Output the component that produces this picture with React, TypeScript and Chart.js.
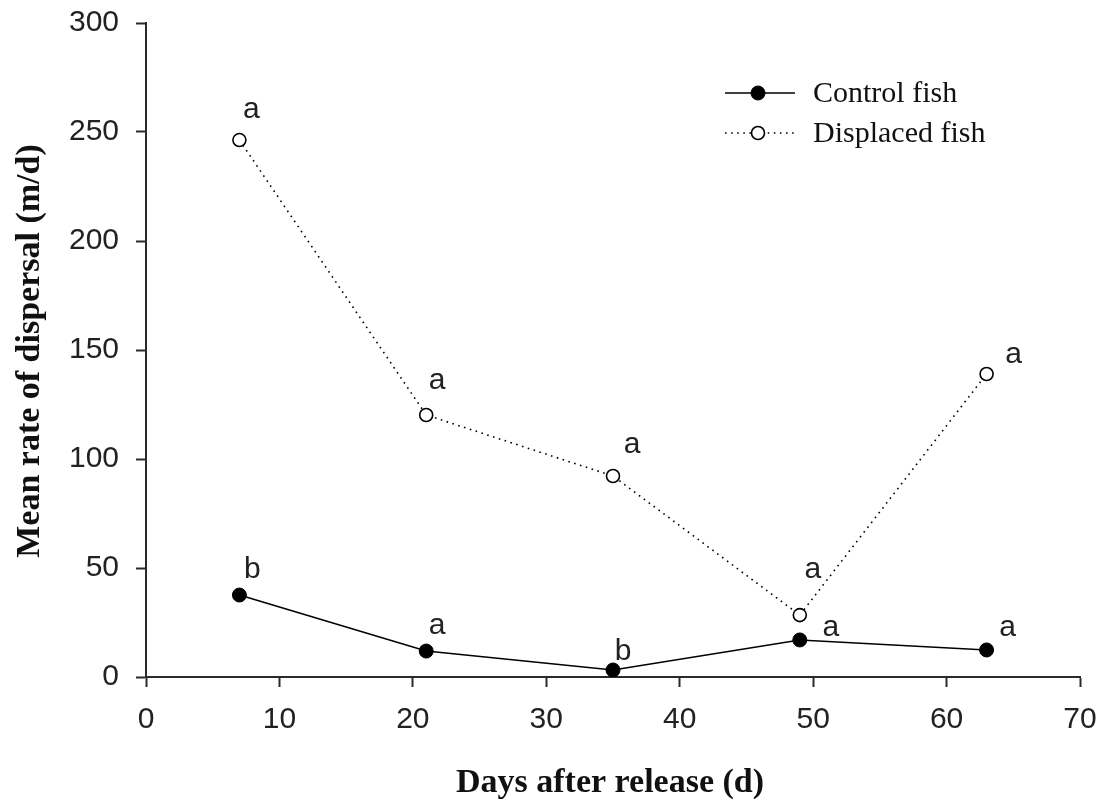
import React, { useEffect, useRef } from "react";
import { Chart, registerables } from "chart.js";

Chart.register(...registerables);

// ---- data ----
const days = [7, 21, 35, 49, 63];
const controlFish = [37.6, 11.9, 3.2, 17, 12.4];
const displacedFish = [246.3, 120.2, 92.2, 28.4, 139];
const controlLetters = ["b", "a", "b", "a", "a"];
const displacedLetters = ["a", "a", "a", "a", "a"];
const xTickValues = [0, 10, 20, 30, 40, 50, 60, 70];
const yTickValues = [0, 50, 100, 150, 200, 250, 300];
const seriesNames = ["Control fish", "Displaced fish"];
const xTitle = "Days after release (d)";
const yTitle = "Mean rate of dispersal (m/d)";

// ---- style (letter placement relative to each point, in px) ----
const controlLetterOffsets = [[13, -25], [11, -23], [10, -18], [31, -10], [21, -20]];
const displacedLetterOffsets = [[12, -28], [11, -32], [19, -29], [13, -43], [27, -17]];

const SANS = "'Liberation Sans', Arial, sans-serif";
const SERIF = "'Liberation Serif', 'Times New Roman', serif";
const AXIS = "#2a2a2a";

// target plot box
const AREA = { left: 146, right: 1080, top: 23, bottom: 677 };

const decorPlugin = {
  id: "decor",
  afterDatasetsDraw(chart: any) {
    const ctx = chart.ctx;
    const ca = chart.chartArea;
    ctx.save();
    const letterSets = [
      [controlLetters, controlLetterOffsets],
      [displacedLetters, displacedLetterOffsets],
    ];
    ctx.font = `30px ${SANS}`;
    ctx.fillStyle = "#222";
    ctx.textAlign = "center";
    ctx.textBaseline = "middle";
    letterSets.forEach(([letters, offs]: any, di: number) => {
      const meta = chart.getDatasetMeta(di);
      meta.data.forEach((pt: any, j: number) => {
        const l = letters[j];
        const adj = l === "a" ? -2 : 0;
        ctx.fillText(l, pt.x + offs[j][0], pt.y + offs[j][1] + adj);
      });
    });

    const legendRows = [
      { y: 93, ds: chart.data.datasets[0] },
      { y: 133, ds: chart.data.datasets[1] },
    ];
    legendRows.forEach((row, i) => {
      const ds: any = row.ds;
      ctx.beginPath();
      ctx.setLineDash(ds.borderDash || []);
      ctx.lineWidth = ds.borderWidth;
      ctx.strokeStyle = ds.borderColor;
      ctx.moveTo(725, row.y);
      ctx.lineTo(795, row.y);
      ctx.stroke();
      ctx.setLineDash([]);
      ctx.beginPath();
      ctx.arc(758, row.y, ds.pointRadius, 0, Math.PI * 2);
      ctx.fillStyle = ds.pointBackgroundColor;
      ctx.fill();
      ctx.lineWidth = ds.pointBorderWidth;
      ctx.strokeStyle = ds.pointBorderColor;
      ctx.stroke();
      ctx.font = `30px ${SERIF}`;
      ctx.fillStyle = "#111";
      ctx.textAlign = "left";
      ctx.textBaseline = "middle";
      ctx.fillText(seriesNames[i], 813, row.y + 1);
    });

    ctx.font = `bold 34px ${SERIF}`;
    ctx.fillStyle = "#111";
    ctx.textAlign = "center";
    ctx.textBaseline = "middle";
    ctx.fillText(xTitle, (ca.left + ca.right) / 2 - 3, 783);
    ctx.save();
    ctx.translate(30, (ca.top + ca.bottom) / 2 + 1);
    ctx.rotate(-Math.PI / 2);
    ctx.fillText(yTitle, 0, 0);
    ctx.restore();
    ctx.restore();
  },
};

export default function App() {
  const ref = useRef<HTMLCanvasElement | null>(null);
  useEffect(() => {
    if (!ref.current) return;
    const chart = new Chart(ref.current, {
      type: "line",
      data: {
        datasets: [
          {
            label: seriesNames[0],
            data: days.map((d, i) => ({ x: d, y: controlFish[i] })),
            borderColor: "#000",
            borderWidth: 1.6,
            pointRadius: 7,
            pointBackgroundColor: "#000",
            pointBorderColor: "#000",
            pointBorderWidth: 1,
            tension: 0,
          } as any,
          {
            label: seriesNames[1],
            data: days.map((d, i) => ({ x: d, y: displacedFish[i] })),
            borderColor: "#000",
            borderWidth: 1.6,
            borderDash: [1.6, 4.5],
            pointRadius: 6.5,
            pointBackgroundColor: "#fff",
            pointBorderColor: "#000",
            pointBorderWidth: 1.6,
            tension: 0,
          } as any,
        ],
      },
      options: {
        animation: false,
        responsive: false,
        devicePixelRatio: 1,
        layout: { padding: { top: 0, right: 0, left: 0, bottom: 0 } },
        plugins: { legend: { display: false }, tooltip: { enabled: false } },
        scales: {
          x: {
            type: "linear",
            min: xTickValues[0],
            max: xTickValues[xTickValues.length - 1],
            afterBuildTicks: (s: any) => {
              s.ticks = xTickValues.map((v) => ({ value: v }));
            },
            afterFit: (s: any) => {
              s.height = 804 - AREA.bottom;
              s.paddingLeft = 0;
              s.paddingRight = 0;
            },
            grid: {
              drawOnChartArea: false,
              drawTicks: true,
              tickLength: 10,
              tickWidth: 2,
              tickColor: AXIS,
            },
            border: { display: true, color: AXIS, width: 2 },
            ticks: {
              padding: 15,
              color: "#222",
              font: { family: SANS, size: 30 },
              maxRotation: 0,
            },
          },
          y: {
            type: "linear",
            min: yTickValues[0],
            max: yTickValues[yTickValues.length - 1],
            afterBuildTicks: (s: any) => {
              s.ticks = yTickValues.map((v) => ({ value: v }));
            },
            afterFit: (s: any) => {
              s.width = AREA.left;
              s.paddingTop = 0;
              s.paddingBottom = 0;
            },
            grid: {
              drawOnChartArea: false,
              drawTicks: true,
              tickLength: 10,
              tickWidth: 2,
              tickColor: AXIS,
            },
            border: { display: true, color: AXIS, width: 2 },
            ticks: {
              padding: 17,
              color: "#222",
              font: { family: SANS, size: 30 },
            },
          },
        },
      },
      plugins: [
        decorPlugin,
        {
          id: "fixArea",
          afterLayout(chart: any) {
            // snap plot box to the reference geometry
            const ca = chart.chartArea;
            ca.left = AREA.left;
            ca.right = AREA.right;
            ca.top = AREA.top;
            ca.bottom = AREA.bottom;
            ca.width = AREA.right - AREA.left;
            ca.height = AREA.bottom - AREA.top;
            const xs = chart.scales.x;
            const ys = chart.scales.y;
            xs.left = AREA.left;
            xs.right = AREA.right;
            xs.width = AREA.right - AREA.left;
            xs.top = AREA.bottom;
            xs.bottom = 804;
            xs.height = 804 - AREA.bottom;
            ys.top = AREA.top;
            ys.bottom = AREA.bottom;
            ys.height = AREA.bottom - AREA.top;
            ys.left = 0;
            ys.right = AREA.left;
            ys.width = AREA.left;
            xs.configure();
            ys.configure();
            xs.generateTickLabels(xs.ticks);
            xs._labelItems = null;
            ys._labelItems = null;
            xs._gridLineItems = null;
            ys._gridLineItems = null;
          },
        },
      ],
    });
    return () => chart.destroy();
  }, []);

  return (
    <div style={{ position: "absolute", left: 0, top: 0, width: 1106, height: 804, background: "#fff" }}>
      <canvas ref={ref} width={1106} height={804} style={{ display: "block" }} />
    </div>
  );
}
